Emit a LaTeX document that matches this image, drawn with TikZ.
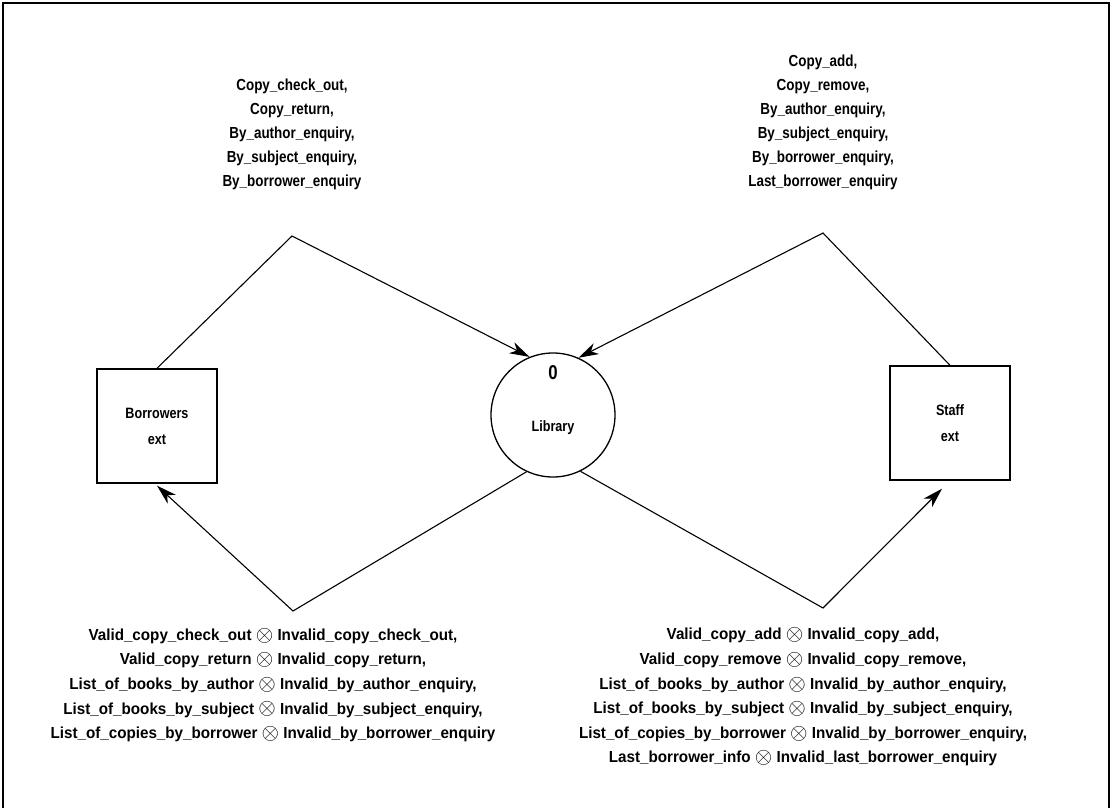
\documentclass[tikz,border=0pt]{standalone}
\usepackage{fontspec}
\setmainfont{Liberation Sans}
\newfontfamily\labelfont{Liberation Sans Bold}[FakeStretch=0.84]
\newfontfamily\wlabelfont{Liberation Sans Bold}[FakeStretch=0.95]
\usetikzlibrary{arrows.meta,calc}
% operator joining a valid and an invalid outcome
\newcommand{\orx}{\raisebox{-0.1ex}{\scalebox{1.3}{$\otimes$}}}
\begin{document}
\begin{tikzpicture}[x=1pt,y=-1pt,
  every node/.style={font=\labelfont\fontsize{16}{24}\selectfont},
  flowlabel/.style={align=center,inner sep=0pt},
  resultlabel/.style={align=center,inner sep=0pt,font=\wlabelfont\fontsize{16}{24.6}\selectfont},
  extbox/.style={draw,line width=1.4pt,minimum width=120pt,minimum height=114pt,inner sep=0pt,align=center,font=\labelfont\fontsize{15}{26}\selectfont},
  procnode/.style={draw,circle,line width=1.3pt,minimum size=124pt,inner sep=0pt},
  flow/.style={line width=1.1pt},
  arr/.style={flow,-{Stealth[length=20pt,width=12pt,inset=6pt]}}]
\useasboundingbox (0,0) rectangle (1112,808);
% page frame
\draw[line width=1.5pt] (3,808) -- (3,3) -- (1109,3) -- (1109,808);

% process and externals
\node[procnode] (lib) at (553,415) {};
\node at (553,373) {\fontsize{20}{20}\selectfont 0};
\node at (553,428) {\fontsize{15}{16}\selectfont Library};
\node[extbox] (bor) at (157,426) {Borrowers\\ext};
\node[extbox] (staff) at (950,423) {Staff\\ext};

% bend points of the flows
\coordinate (tl) at (292,236);
\coordinate (tr) at (823,233);
\coordinate (bl) at (293,611);
\coordinate (br) at (823,608);

% flows
\draw[arr] (bor.north) -- (tl) -- (lib.112);
\draw[arr] (staff.north) -- (tr) -- (lib.66);
\draw[arr] (lib.245) -- (bl) -- ($(bor.south)+(0,2)$);
\draw[arr] (lib.296) -- (br) -- ($(staff.south)+(-8,8)$);

% flow labels
\node[flowlabel] (ltl) at (292,134) {Copy\_check\_out,\\Copy\_return,\\By\_author\_enquiry,\\By\_subject\_enquiry,\\By\_borrower\_enquiry};
\node[flowlabel] (ltr) at (823,122) {Copy\_add,\\Copy\_remove,\\By\_author\_enquiry,\\By\_subject\_enquiry,\\By\_borrower\_enquiry,\\Last\_borrower\_enquiry};
\node[resultlabel] (lbl) at (273,685) {Valid\_copy\_check\_out \orx{} Invalid\_copy\_check\_out,\\Valid\_copy\_return \orx{} Invalid\_copy\_return,\\List\_of\_books\_by\_author \orx{} Invalid\_by\_author\_enquiry,\\List\_of\_books\_by\_subject \orx{} Invalid\_by\_subject\_enquiry,\\List\_of\_copies\_by\_borrower \orx{} Invalid\_by\_borrower\_enquiry};
\node[resultlabel] (lbr) at (803,697) {Valid\_copy\_add \orx{} Invalid\_copy\_add,\\Valid\_copy\_remove \orx{} Invalid\_copy\_remove,\\List\_of\_books\_by\_author \orx{} Invalid\_by\_author\_enquiry,\\List\_of\_books\_by\_subject \orx{} Invalid\_by\_subject\_enquiry,\\List\_of\_copies\_by\_borrower \orx{} Invalid\_by\_borrower\_enquiry,\\Last\_borrower\_info \orx{} Invalid\_last\_borrower\_enquiry};
\end{tikzpicture}
\end{document}
